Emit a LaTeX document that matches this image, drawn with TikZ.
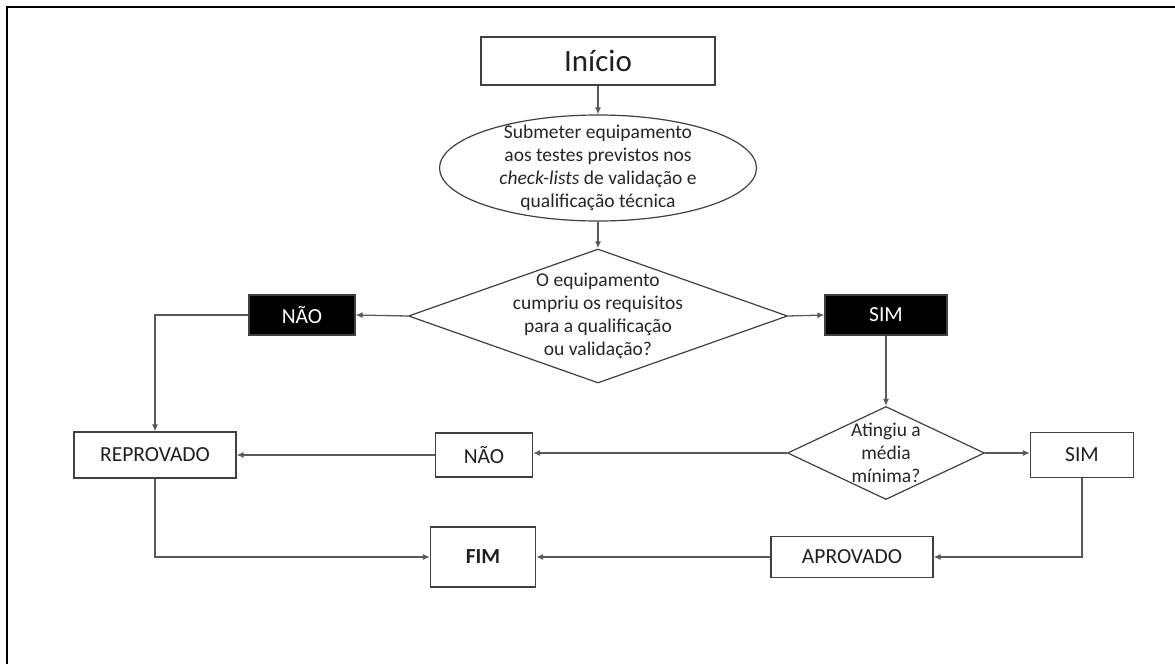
\documentclass[tikz,border=0pt]{standalone}
\usepackage{fontspec}
\setmainfont{Carlito}
\usetikzlibrary{shapes.geometric,arrows.meta}
\definecolor{edge}{HTML}{404040}
\definecolor{conn}{HTML}{595959}
\tikzset{
  box/.style={draw=edge, line width=1.2pt, fill=white, inner sep=0pt, text=black!88, font=\fontsize{21.5}{25}\selectfont},
  blackbox/.style={draw=edge, line width=1.2pt, fill=black, text=white, inner sep=0pt, font=\fontsize{21.5}{25}\selectfont},
  shapeline/.style={draw=edge, line width=1.2pt, inner sep=0pt},
  body/.style={align=center, font=\fontsize{19.5}{23}\selectfont, text=black!85},
  conn/.style={draw=conn, line width=1.3pt, -{Latex[length=7pt,width=6pt]}},
}
\begin{document}
\begin{tikzpicture}[x=1pt,y=-1pt]
\useasboundingbox (0,0) rectangle (1175,664);
\fill[white] (0,0) rectangle (1175,664);
\draw[line width=2.5pt, black] (7,664) -- (7,7) -- (1175,7);

\node[box, minimum width=234pt, minimum height=48pt, font=\fontsize{31}{35}\selectfont] (inicio) at (598,61) {Início};
\node[shapeline, ellipse, minimum width=317pt, minimum height=106pt] (sub) at (598,168) {};
\node[body] (subt) at (sub.center) {Submeter equipamento\\aos testes previstos nos\\\textit{check-lists} de validação e\\qualificação técnica};

\node[shapeline, diamond, minimum width=379pt, minimum height=134pt] (d1) at (598,316) {};
\node[body] (d1t) at (d1.center) {O equipamento\\cumpriu os requisitos\\para a qualificação\\ou validação?};

\node[blackbox, minimum width=106pt, minimum height=40pt] (no1) at (302,315) {NÃO};
\node[blackbox, minimum width=122pt, minimum height=40pt] (sim1) at (886,315) {SIM};

\node[shapeline, diamond, minimum width=197pt, minimum height=93pt] (d2) at (886,453) {};
\node[body] (d2t) at (d2.center) {Atingiu a\\média\\mínima?};

\node[box, minimum width=162pt, minimum height=46pt] (reprov) at (155,455) {REPROVADO};
\node[box, minimum width=97pt, minimum height=44pt] (no2) at (484,455) {NÃO};
\node[box, minimum width=103pt, minimum height=45pt] (sim2) at (1082,455) {SIM};
\node[box, minimum width=162pt, minimum height=41pt] (aprov) at (852,557) {APROVADO};
\node[box, minimum width=105pt, minimum height=60pt, font=\fontsize{21.5}{25}\selectfont\bfseries] (fim) at (483,557) {FIM};

\draw[conn] (inicio.south) -- (sub.north);
\draw[conn] (sub.south) -- (d1.north);
\draw[conn] (d1.west) -- (no1.east);
\draw[conn] (d1.east) -- (sim1.west);
\draw[conn] (no1.west) -| (reprov.north);
\draw[conn] (sim1.south) -- (d2.north);
\draw[conn] (d2.west) -- (no2.east |- d2.west);
\draw[conn] (no2.west) -- (reprov.east);
\draw[conn] (d2.east) -- (sim2.west |- d2.east);
\draw[conn] (sim2.south) |- (aprov.east);
\draw[conn] (aprov.west) -- (fim.east);
\draw[conn] (reprov.south) |- (fim.west);
\end{tikzpicture}
\end{document}
